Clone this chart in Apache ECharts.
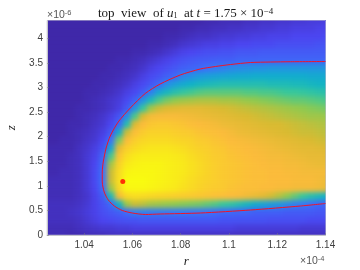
<!DOCTYPE html>
<html>
<head>
<meta charset="utf-8">
<style>html,body{margin:0;padding:0;background:#fff}#c{width:360px;height:270px}</style>
<script src="https://cdn.jsdelivr.net/npm/echarts@6/dist/echarts.min.js"></script>
</head>
<body>
<div id="c"></div>
<script>
// u1 on a regular sample grid, top row first, scale 0-100
const u1Rows = [
[0,0,0,0,0,0,0,0,0,0,0,0,0,0,0,0,0,0,0,0,1,1,2,2,2,3,3,4,4,5,5,6,6,7,7,8],
[0,0,0,0,0,0,0,0,0,0,0,0,0,0,0,0,0,1,1,2,2,3,3,4,4,5,5,6,6,7,7,8,8,8,9,9],
[0,0,0,0,0,0,0,0,0,0,0,0,0,0,0,1,1,2,3,4,4,5,6,6,7,7,8,8,9,9,9,10,10,10,10,11],
[0,0,0,0,0,0,0,0,0,0,0,0,0,1,1,2,3,5,6,7,8,8,9,9,10,10,11,11,11,12,12,12,12,12,13,13],
[0,0,0,0,0,0,0,0,0,0,0,1,1,2,3,5,7,9,10,11,12,12,13,13,14,14,14,15,15,15,15,15,15,15,15,15],
[0,0,0,0,0,0,0,0,0,1,1,2,3,5,7,9,11,13,14,15,15,16,16,16,17,17,17,17,17,17,17,17,17,17,17,17],
[0,0,0,0,0,0,0,0,1,1,2,3,5,8,10,12,14,16,17,18,20,22,24,26,27,28,29,29,30,30,30,30,30,30,30,30],
[0,0,0,0,0,0,0,1,1,2,3,5,8,11,13,16,18,25,28,31,33,34,35,36,37,37,38,38,38,38,38,38,38,37,37,37],
[0,0,0,0,0,0,1,1,2,3,5,8,11,14,18,27,33,37,40,42,43,44,45,45,45,45,45,45,44,44,44,43,43,42,41,41],
[0,0,0,0,0,1,1,2,3,5,8,11,15,24,36,42,46,49,51,53,54,54,54,54,54,53,53,52,52,51,50,50,49,48,47,46],
[0,0,0,0,0,1,2,3,5,7,11,16,29,43,52,57,60,62,63,64,64,64,63,63,62,61,60,59,58,57,56,55,55,54,53,52],
[0,0,0,0,1,1,2,3,5,8,14,29,49,62,68,71,72,73,73,73,72,71,70,69,68,67,66,65,64,63,62,61,60,59,58,57],
[0,0,0,0,1,2,3,5,8,13,27,52,70,78,79,79,79,78,77,76,75,74,73,72,71,70,69,68,67,66,65,64,63,62,62,61],
[0,0,0,1,1,2,4,6,10,18,45,71,80,84,85,85,84,83,81,80,79,78,76,75,74,73,72,71,70,70,69,68,67,66,65,64],
[0,0,0,1,2,3,5,8,14,38,68,81,86,88,88,88,87,86,85,83,82,81,80,78,76,75,74,73,72,71,70,69,68,68,67,66],
[0,0,1,1,2,4,6,10,20,58,80,87,90,91,91,91,90,89,88,86,85,83,82,80,79,78,77,76,75,74,73,72,71,70,69,68],
[1,1,1,1,3,5,8,13,36,74,87,91,93,94,94,94,93,92,90,88,87,85,84,82,81,80,79,78,77,76,75,74,73,73,72,71],
[1,1,1,2,3,6,9,17,52,83,92,95,96,96,96,96,95,94,92,90,88,86,85,83,82,81,80,79,78,78,77,76,75,74,74,73],
[1,1,1,2,3,6,10,19,63,88,95,97,98,98,98,97,96,95,93,91,89,87,85,84,83,82,81,80,79,79,78,78,77,76,75,75],
[1,1,2,2,3,6,11,20,68,91,98,99,99,99,98,97,96,95,93,91,89,87,85,84,83,82,81,81,80,80,79,79,78,78,78,78],
[2,2,2,2,3,6,11,20,68,92,100,100,100,99,98,97,96,94,92,90,88,87,85,84,83,82,81,81,80,80,80,79,79,79,78,76],
[2,2,2,2,3,6,10,19,62,90,99,99,99,98,97,96,95,93,91,89,87,86,85,83,82,81,81,80,80,79,79,78,78,78,77,75],
[2,2,2,2,3,5,9,15,44,78,90,92,91,90,89,88,87,86,85,84,83,82,81,80,79,77,75,73,69,65,60,55,50,46,43,40],
[3,3,3,3,4,6,9,13,18,40,62,68,66,63,62,61,60,59,58,57,55,53,50,48,45,42,38,35,32,30,27,24,22,20,18,17],
[3,3,3,4,5,7,9,12,14,16,19,24,24,23,23,22,22,22,21,21,20,19,18,18,17,17,16,16,16,16,15,15,15,15,14,14],
[3,3,3,3,4,6,8,10,11,12,13,13,14,14,14,14,14,14,14,14,14,14,13,13,13,13,13,13,12,12,12,12,12,11,11,11],
[2,2,2,2,3,4,5,6,6,7,7,8,8,8,8,8,8,8,8,8,8,8,8,8,7,7,7,7,7,7,7,7,6,6,6,6],
[2,2,2,1,1,2,2,2,3,3,3,3,3,3,3,3,3,3,3,3,3,3,3,3,3,3,3,3,3,3,3,3,3,3,3,3]
];
// red contour, r in 1e-4, z in 1e-6
const contourR = [1.14,1.1255,1.1172,1.1089,1.1006,1.0944,1.0881,1.0798,1.0715,1.0653,1.0591,1.0541,1.0508,1.0491,1.0479,1.0475,1.0475,1.0483,1.05,1.0525,1.0558,1.0599,1.0653,1.0715,1.0881,1.1089,1.1296,1.14];
const contourZ = [3.526,3.522,3.516,3.506,3.465,3.425,3.374,3.252,3.069,2.876,2.581,2.297,2.012,1.768,1.484,1.28,1.077,0.874,0.711,0.589,0.498,0.447,0.417,0.427,0.447,0.508,0.589,0.64];
const peakR = [1.056];
const peakZ = [1.09];
const xTicks = [1.04,1.06,1.08,1.1,1.12,1.14];
const yTicks = [0,0.5,1,1.5,2,2.5,3,3.5,4];
const parula = ['#3e26a8','#4a44f0','#3a70fa','#1f96e0','#0eb1c8','#37c79a','#8fc94e','#d9ba30','#fbbb3a','#f9d624','#f9fb0e'];

// two extra cells per side repeat the edge so the blur does not fade at the plot frame
const PAD = 2, NR = u1Rows.length, NC = u1Rows[0].length;
const clamp = (v, n) => Math.max(0, Math.min(n - 1, v));
const cells = [];
for (let j = 0; j < NR + 2 * PAD; j++)
  for (let i = 0; i < NC + 2 * PAD; i++)
    cells.push([i, j, u1Rows[clamp(j - PAD, NR)][clamp(i - PAD, NC)]]);
const catN = n => Array.from({length: n}, (_, i) => String(i));
const tickFont = {color: '#404040', fontSize: 10, fontFamily: '"Liberation Sans"'};
const serif = '"Liberation Serif"';

const chart = echarts.init(document.getElementById('c'), null, {renderer: 'canvas'});
chart.setOption({
  animation: false,
  backgroundColor: 'transparent',
  title: {
    left: 93, top: 2,
    text: 'top\u2002view\u2002of {i|u}{s|1}\u2002at {i|t} = 1.75 × 10{p|−4}',
    textStyle: {
      fontFamily: serif, fontSize: 13, fontWeight: 'normal', color: '#1a1a1a',
      rich: {
        i: {fontFamily: serif, fontSize: 13, fontStyle: 'italic', color: '#1a1a1a'},
        s: {fontFamily: serif, fontSize: 8, color: '#1a1a1a', padding: [4, 0, 0, 0]},
        p: {fontFamily: serif, fontSize: 9, color: '#1a1a1a', padding: [0, 0, 5, 0]}
      }
    }
  },
  grid: [
    {left: 27, top: 0.5, width: 320, height: 256, show: false, outerBoundsMode: 'none'},
    {left: 47, top: 20.5, width: 278.5, height: 214.5, show: true, backgroundColor: 'transparent',
     borderColor: 'rgba(190,190,205,0.55)', borderWidth: 1, outerBoundsMode: 'none'}
  ],
  xAxis: [
    {gridIndex: 0, type: 'category', data: catN(NC + 2 * PAD), show: false},
    {gridIndex: 1, type: 'value', min: 1.0246, max: 1.14, splitLine: {show: false},
     name: 'r', nameLocation: 'middle', nameGap: 16,
     nameTextStyle: {fontFamily: serif, fontStyle: 'italic', fontSize: 13, color: '#222'},
     axisLine: {show: true, lineStyle: {color: '#c4c4cc', width: 1}},
     axisTick: {show: true, inside: true, length: 2, lineStyle: {color: 'rgba(120,120,130,0.5)'}, customValues: xTicks},
     axisLabel: Object.assign({customValues: xTicks, margin: 5, formatter: v => String(+(+v).toFixed(2))}, tickFont)}
  ],
  yAxis: [
    {gridIndex: 0, type: 'category', data: catN(NR + 2 * PAD), inverse: true, show: false},
    {gridIndex: 1, type: 'value', min: 0, max: 4.36, splitLine: {show: false},
     name: 'z', nameLocation: 'middle', nameGap: 22,
     nameTextStyle: {fontFamily: serif, fontStyle: 'italic', fontSize: 13, color: '#222'},
     axisLine: {show: true, lineStyle: {color: '#c4c4cc', width: 1}},
     axisTick: {show: true, inside: true, length: 2, lineStyle: {color: 'rgba(120,120,130,0.5)'}, customValues: yTicks},
     axisLabel: Object.assign({customValues: yTicks, margin: 4, formatter: v => String(+(+v).toFixed(1))}, tickFont)}
  ],
  visualMap: {show: false, seriesIndex: 0, dimension: 2, min: 0, max: 100, inRange: {color: parula}},
  graphic: [
    {type: 'text', left: 47, top: 9, silent: true,
     style: {text: '×10{p|-6}', fontFamily: '"Liberation Sans"', fontSize: 10.5, fill: '#555',
       rich: {p: {fontFamily: '"Liberation Sans"', fontSize: 7.5, fill: '#555', padding: [0, 0, 5, 0]}}}},
    {type: 'text', left: 300, top: 255, silent: true,
     style: {text: '×10{p|-4}', fontFamily: '"Liberation Sans"', fontSize: 10.5, fill: '#555',
       rich: {p: {fontFamily: '"Liberation Sans"', fontSize: 7.5, fill: '#555', padding: [0, 0, 5, 0]}}}}
  ],
  series: [
    {type: 'heatmap', xAxisIndex: 0, yAxisIndex: 0, data: cells, zlevel: -1, silent: true, progressive: 0,
     itemStyle: {borderWidth: 0}, emphasis: {disabled: true}},
    {type: 'line', xAxisIndex: 1, yAxisIndex: 1, silent: true, showSymbol: false, smooth: 0.25,
     data: contourR.map((r, i) => [r, contourZ[i]]),
     lineStyle: {color: '#f01428', width: 1}},
    {type: 'scatter', xAxisIndex: 1, yAxisIndex: 1, silent: true, symbolSize: 5,
     data: peakR.map((r, i) => [r, peakZ[i]]), itemStyle: {color: '#ff0000'}}
  ]
});
const heat = document.querySelector('canvas[data-zr-dom-id="zr_-1"]');
if (heat) {
  heat.style.filter = 'blur(2.5px)';
  heat.style.clipPath = 'inset(20.5px 34.5px 35px 47px)';
}
</script>
</body>
</html>
